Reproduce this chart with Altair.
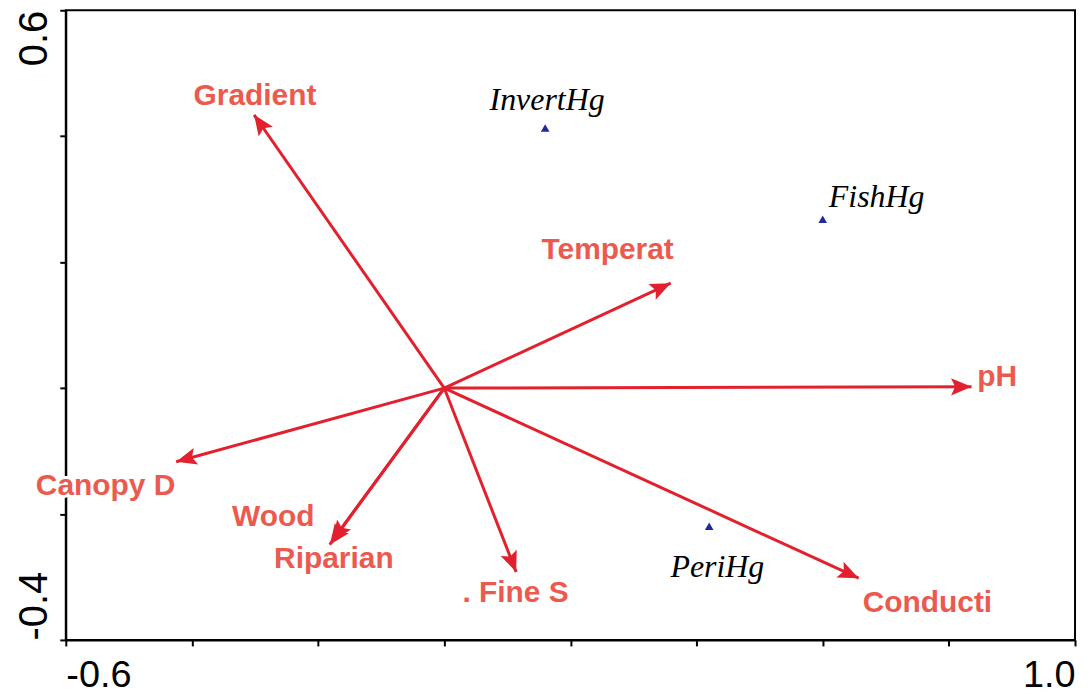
import math
import altair as alt
import pandas as pd

# Environmental variable arrows (biplot scores) and their label anchors
env_names = ["Gradient", "Temperat", "pH", "Canopy D", "Wood", "Riparian", ". Fine S", "Conducti"]
env_x = [-0.3015, 0.359, 0.836, -0.425, -0.178, -0.1815, 0.114, 0.657]
env_y = [0.434, 0.1665, 0.002, -0.117, -0.243, -0.2487, -0.292, -0.302]
env_label_x = [-0.300, 0.259, 0.8766, -0.537, -0.271, -0.175, 0.113, 0.766]
env_label_y = [0.4497, 0.2044, 0.0035, -0.1706, -0.2196, -0.286, -0.340, -0.356]

# Response (species) scores
sp_names = ["InvertHg", "FishHg", "PeriHg"]
sp_x = [0.160, 0.600, 0.420]
sp_y = [0.413, 0.268, -0.2196]
sp_label_x = [0.163, 0.6855, 0.433]
sp_label_y = [0.4418, 0.288, -0.2994]

x_ticks = [-0.6, -0.4, -0.2, 0.0, 0.2, 0.4, 0.6, 0.8, 1.0]
y_ticks = [-0.4, -0.2, 0.0, 0.2, 0.4, 0.6]

ARROW = "#E3202D"
LABEL = "#EC5A4F"
SPEC = "#1F2A9A"

env = pd.DataFrame({
    "name": env_names, "x": env_x, "y": env_y,
    "lx": env_label_x, "ly": env_label_y,
})
env["x0"] = 0.0
env["y0"] = 0.0
env["angle"] = [(math.degrees(math.atan2(a, b)) + 360) % 360 for a, b in zip(env_x, env_y)]

sp = pd.DataFrame({"name": sp_names, "x": sp_x, "y": sp_y,
                   "lx": sp_label_x, "ly": sp_label_y})

xs = alt.Scale(domain=[-0.6, 1.0], nice=False, zero=False)
ys = alt.Scale(domain=[-0.4, 0.6], nice=False, zero=False)

MINUS = "\u2212"

x_axis = alt.Axis(
    values=x_ticks, title=None, grid=False,
    labelExpr=("(abs(datum.value + 0.6) < 1e-6 || abs(datum.value - 1.0) < 1e-6) ? "
               "replace(format(datum.value, '.1f'), '" + MINUS + "', '-') : ''"),
    labelFlush=True, labelFont="Liberation Sans", labelFontSize=38, labelColor="black",
    labelBaseline="alphabetic",
    labelPadding=41, tickSize=6, tickWidth=2, tickColor="black",
    domainColor="black", domainWidth=2,
)
y_axis = alt.Axis(
    values=y_ticks, title=None, grid=False,
    labelExpr=("(abs(datum.value + 0.4) < 1e-6 || abs(datum.value - 0.6) < 1e-6) ? "
               "replace(format(datum.value, '.1f'), '" + MINUS + "', '-') : ''"),
    labelAngle=270,
    labelAlign={"condition": {"test": "datum.value > 0", "value": "right"}, "value": "left"},
    labelBaseline="alphabetic",
    labelFont="Liberation Sans", labelFontSize=40, labelColor="black",
    labelPadding=13, tickSize=6, tickWidth=2, tickColor="black",
    domainColor="black", domainWidth=2,
)

base_env = alt.Chart(env)

lines = base_env.mark_rule(color=ARROW, strokeWidth=3).encode(
    x=alt.X("x0:Q", scale=xs, axis=x_axis),
    y=alt.Y("y0:Q", scale=ys, axis=y_axis),
    x2="x:Q", y2="y:Q",
)

heads = base_env.mark_point(
    shape="M0,0L-0.42,1L0,0.8L0.42,1Z", filled=True, size=1700,
    color=ARROW, opacity=1, strokeWidth=0,
).encode(
    x=alt.X("x:Q", scale=xs), y=alt.Y("y:Q", scale=ys),
    angle=alt.Angle("angle:Q", scale=None),
)

env_halo = base_env.mark_text(
    font="Liberation Sans", fontWeight="bold", fontSize=30,
    stroke="white", strokeWidth=6, fill="white", align="center", baseline="alphabetic",
).encode(x=alt.X("lx:Q", scale=xs), y=alt.Y("ly:Q", scale=ys), text="name:N")

env_text = base_env.mark_text(
    font="Liberation Sans", fontWeight="bold", fontSize=30,
    color=LABEL, align="center", baseline="alphabetic",
).encode(x=alt.X("lx:Q", scale=xs), y=alt.Y("ly:Q", scale=ys), text="name:N")

base_sp = alt.Chart(sp)
sp_pts = base_sp.mark_point(shape="triangle-up", filled=True, size=75,
                            color=SPEC, opacity=1).encode(
    x=alt.X("x:Q", scale=xs), y=alt.Y("y:Q", scale=ys))
sp_text = base_sp.mark_text(
    font="Liberation Serif", fontStyle="italic", fontSize=32,
    color="black", align="center", baseline="alphabetic",
).encode(x=alt.X("lx:Q", scale=xs), y=alt.Y("ly:Q", scale=ys), text="name:N")

chart = alt.layer(lines, heads, sp_pts, env_halo, env_text, sp_text).properties(
    width=1013, height=632,
    autosize=alt.AutoSizeParams(type="none"),
    padding={"left": 58, "top": 1, "right": 6, "bottom": 56},
    background="white",
).configure_view(stroke="black", strokeWidth=2)

chart.save("out.html", embed_options={"renderer": "svg", "actions": False})
